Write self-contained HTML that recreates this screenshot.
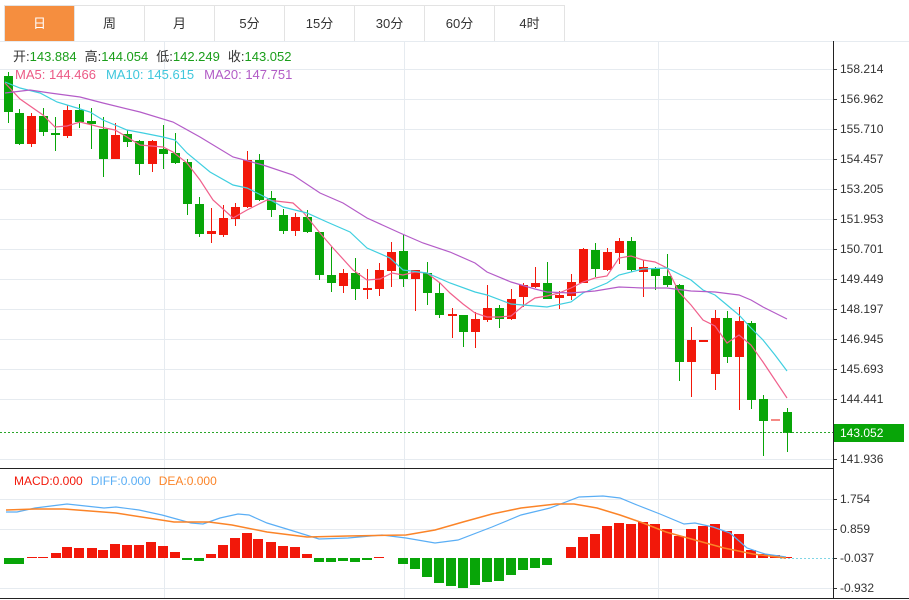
<!DOCTYPE html>
<html><head><meta charset="utf-8">
<style>
html,body{margin:0;padding:0;background:#fff;width:909px;height:600px;overflow:hidden;font-family:"Liberation Sans","Noto Sans CJK SC",sans-serif;}
.tabs{position:absolute;left:4px;top:5px;height:35px;display:flex;border:1px solid #e3e3e3;border-right:none;}
.tab{width:69px;height:35px;border-right:1px solid #e3e3e3;text-align:center;line-height:35px;font-size:13px;color:#333;}
.tab.on{background:#f58e3f;color:#fff;}
.tabs .fill{width:333px;border-right:none;}
svg{position:absolute;left:0;top:0;}
</style></head><body>
<div class="tabs"><div class="tab on">日</div><div class="tab">周</div><div class="tab">月</div><div class="tab">5分</div><div class="tab">15分</div><div class="tab">30分</div><div class="tab">60分</div><div class="tab">4时</div></div>
<svg id="s" width="909" height="600" xmlns="http://www.w3.org/2000/svg" style="top:0"></svg>
<script>
var s=document.getElementById('s');var h='';
function L(x1,y1,x2,y2,c,w,extra){h+='<line x1="'+x1+'" y1="'+y1+'" x2="'+x2+'" y2="'+y2+'" stroke="'+c+'" stroke-width="'+(w||1)+'" '+(extra||'')+'/>';}
function T(x,y,t,c,sz,a){h+='<text x="'+x+'" y="'+y+'" fill="'+c+'" font-size="'+(sz||12)+'" '+(a||'')+'>'+t+'</text>';}
var G='#e6ebf0';
L(0,41.5,909,41.5,G);
var ticks=[[69,'158.214'],[99,'156.962'],[129,'155.710'],[159,'154.457'],[189,'153.205'],[219,'151.953'],[249,'150.701'],[279,'149.449'],[309,'148.197'],[339,'146.945'],[369,'145.693'],[399,'144.441'],[459,'141.936']];
ticks.forEach(function(t){L(0,t[0]+.5,833,t[0]+.5,G);L(833,t[0]+.5,837,t[0]+.5,'#333');T(840,t[0]+4,t[1],'#333',12);});
[164,404,658].forEach(function(x){L(x+.5,41,x+.5,598,G);});
[499,529,588].forEach(function(y){L(0,y+.5,833,y+.5,G);});
[[499,'1.754'],[529,'0.859'],[558,'-0.037'],[588,'-0.932']].forEach(function(t){L(833,t[0]+.5,837,t[0]+.5,'#333');T(840,t[0]+4,t[1],'#333',12);});
var R='#f2180a',GR='#08a508';
var c=[
[8,'g',76,112,72,123],[19,'g',113,144,109,145],[31,'r',116,144,113,147],[43,'g',116,132,108,136],[55,'g',133,135,117,151],[67,'r',110,136,105,138],[79,'g',110,122,104,128],[91,'g',121,124,108,149],[103,'g',129,159,117,177],[115,'r',135,159,123,159],[127,'g',134,142,130,147],[139,'g',141,164,140,175],[152,'r',141,164,140,172],[163,'g',149,154,125,169],[175,'g',153,163,133,164],[187,'g',162,204,159,215],[199,'g',204,234,197,237],[211,'r',231,234,208,243],[223,'r',218,235,205,237],[235,'r',207,219,203,226],[247,'r',160,207,151,208],[259,'g',160,200,154,201],[271,'g',198,210,191,217],[283,'g',215,231,209,234],[295,'r',217,231,213,236],[307,'g',217,232,210,233],[319,'g',232,275,232,280],[331,'g',275,283,247,292],[343,'r',273,286,269,293],[355,'g',273,289,258,300],[367,'r',288,290,269,299],[379,'r',270,289,263,296],[391,'r',252,271,242,287],[403,'g',251,279,235,287],[415,'r',270,279,270,311],[427,'g',273,293,262,305],[439,'g',293,315,282,318],[452,'r',314,316,308,338],[463,'g',315,332,315,347],[475,'r',319,332,312,348],[487,'r',308,320,285,322],[499,'g',308,319,305,328],[511,'r',299,319,289,320],[523,'r',285,297,283,307],[535,'r',283,287,267,288],[547,'g',283,299,262,299],[559,'r',295,298,291,309],[571,'r',282,296,274,300],[583,'r',249,283,248,283],[595,'g',250,269,243,277],[607,'r',252,270,248,271],[619,'r',241,253,238,264],[631,'g',241,270,237,272],[643,'r',267,272,260,297],[655,'g',268,276,267,290],[667,'g',276,285,254,287],[679,'g',285,362,284,381],[691,'r',340,362,327,397],[703,'r',340,342,340,342],[715,'r',318,374,310,390],[727,'g',318,357,311,363],[739,'r',321,357,307,410],[751,'g',323,400,321,409],[763,'g',399,421,395,456],[775,'p',419,421,419,421],[787,'g',412,433,408,452]];
c.forEach(function(d){var col=d[1]=='r'?R:(d[1]=='g'?GR:'#f58a85');
 if(d[4]<d[5])L(d[0]+.5,d[4],d[0]+.5,d[5],col,1);
 var hh=Math.max(2,d[3]-d[2]);h+='<rect x="'+(d[0]-4)+'" y="'+d[2]+'" width="9" height="'+hh+'" fill="'+col+'"/>';});
function P(pts,col,w){h+='<polyline fill="none" stroke="'+col+'" stroke-width="'+(w||1.2)+'" points="'+pts+'"/>';}
P('5,83 20,99 43,115 55,127 67,126 80,122 100,127 115,130 127,137 140,145 163,147 173,152 187,163 200,180 213,200 233,218 247,210 267,200 293,203 303,212 320,233 333,248 353,270 367,280 380,279 392,273 403,275 415,272 427,273 440,283 450,293 463,304 475,313 487,317 499,317 511,316 523,306 535,298 547,296 559,293 571,288 583,282 595,278 607,276 619,258 631,256 643,260 655,262 667,268 679,292 691,305 703,320 715,326 727,343 739,335 751,345 763,362 775,380 787,398','#f0608c');
P('5,82 20,88 40,93 57,102 77,108 90,112 103,120 127,130 143,133 163,137 175,140 187,153 210,172 233,185 247,188 267,198 283,207 307,213 327,222 350,232 367,248 390,258 403,270 427,273 450,283 475,292 487,295 511,304 547,307 571,302 583,293 607,283 619,275 643,269 667,268 691,280 703,290 715,295 727,305 739,315 751,328 763,340 775,355 787,371','#3fcfe0');
P('5,93 30,90 50,93 80,97 103,103 140,112 173,122 200,137 233,157 263,165 293,175 320,193 343,203 367,218 400,233 423,243 450,252 475,263 487,272 511,282 535,289 547,292 571,293 595,291 619,287 643,288 667,288 691,291 715,292 739,295 751,300 763,307 775,313 787,319','#b45cc8');
L(0,432.5,833,432.5,'#2aa62a',1,'stroke-dasharray="2,2"');
h+='<rect x="834" y="424" width="70" height="18" fill="#08a508"/>';T(840,437,'143.052','#fff',12);
L(0,468.5,833,468.5,'#222');L(833.5,41,833.5,598,'#222');L(0,598.5,909,598.5,'#222');
// MACD bars
var m=[[9,'g',564],[19,'g',564],[32,'r',557],[43,'r',557],[56,'r',553],[67,'r',547],[79,'r',548],[92,'r',548],[103,'r',550],[115,'r',544],[127,'r',545],[139,'r',545],[151,'r',542],[163,'r',546],[175,'r',552],[187,'g',560],[199,'g',561],[211,'r',554],[223,'r',545],[235,'r',538],[247,'r',533],[258,'r',539],[271,'r',542],[283,'r',546],[295,'r',547],[307,'r',554],[319,'g',562],[331,'g',562],[343,'g',561],[355,'g',562],[367,'g',560],[379,'r',557],[403,'g',564],[415,'g',569],[427,'g',577],[439,'g',583],[451,'g',586],[463,'g',588],[475,'g',585],[487,'g',582],[499,'g',581],[511,'g',575],[523,'g',570],[535,'g',568],[547,'g',565],[571,'r',547],[583,'r',537],[595,'r',534],[607,'r',526],[619,'r',523],[631,'r',524],[643,'r',522],[655,'r',524],[667,'r',529],[679,'r',536],[691,'r',529],[703,'r',526],[715,'r',524],[727,'r',531],[739,'r',534],[751,'r',550],[763,'r',554],[775,'r',555],[787,'r',557]];
var z=558;
m.forEach(function(d){var y1=Math.min(z,d[2]),y2=Math.max(z,d[2]);if(y2-y1<1)y2=y1+1;h+='<rect x="'+(d[0]-5)+'" y="'+y1+'" width="10" height="'+(y2-y1)+'" fill="'+(d[1]=='r'?R:GR)+'"/>';});
L(780,558.5,833,558.5,'#7fd6e6',1,'stroke-dasharray="2,2"');
P('6,512 17,512 35,508 67,504 104,508 116,507 139,510 162,515 191,523 203,524 220,518 238,514 249,515 267,523 290,530 319,539 348,538 382,535 406,538 435,543 458,540 492,527 521,515 550,508 579,497 603,496 620,498 637,505 660,514 684,524 695,523 713,527 730,533 747,548 765,554 786,557','#5aaef5');
P('6,510 35,509 64,509 116,513 174,522 209,522 232,525 267,532 307,537 348,536 406,535 435,530 463,522 492,514 521,508 556,504 574,504 597,508 620,515 643,523 666,532 695,540 724,548 753,554 786,558','#fb8428',1.5);
// legends
h+='<text x="13" y="61" font-size="13"><tspan fill="#333">开:</tspan><tspan fill="#1a9e1a">143.884</tspan><tspan fill="#333" dx="8">高:</tspan><tspan fill="#1a9e1a">144.054</tspan><tspan fill="#333" dx="8">低:</tspan><tspan fill="#1a9e1a">142.249</tspan><tspan fill="#333" dx="8">收:</tspan><tspan fill="#1a9e1a">143.052</tspan></text>';
h+='<text x="15" y="79" font-size="13"><tspan fill="#ec5a86">MA5: 144.466</tspan><tspan fill="#3fc7dc" dx="10">MA10: 145.615</tspan><tspan fill="#b25cc6" dx="10">MA20: 147.751</tspan></text>';
h+='<text x="14" y="485" font-size="12"><tspan fill="#f2180a">MACD:0.000</tspan><tspan fill="#5aaef5" dx="8">DIFF:0.000</tspan><tspan fill="#fb8428" dx="8">DEA:0.000</tspan></text>';
s.innerHTML=h;
</script>
</body></html>
